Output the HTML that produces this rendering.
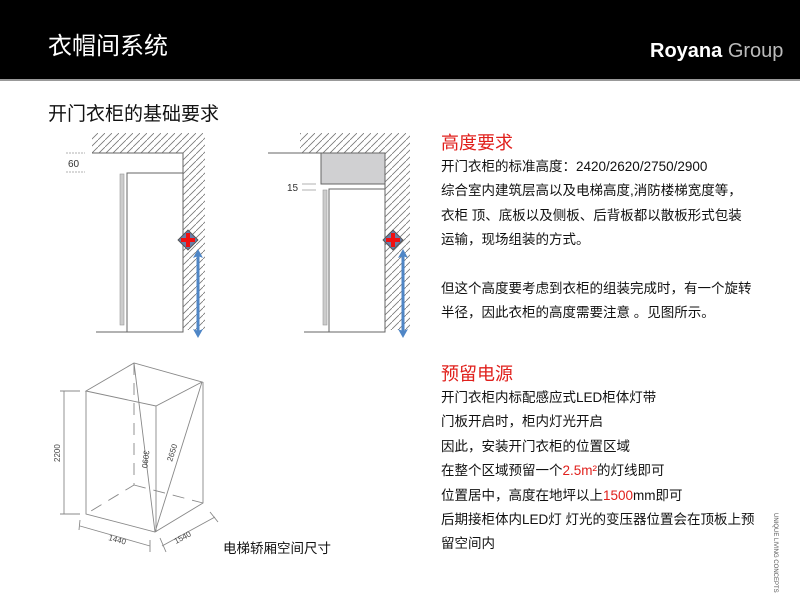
<!DOCTYPE html>
<html><head><meta charset="utf-8"><style>
body{margin:0;width:800px;height:600px;background:#fff;position:relative;overflow:hidden;font-family:"Liberation Sans","Noto Sans CJK SC",sans-serif;}
.hdr{position:absolute;left:0;top:0;width:800px;height:79px;background:#000;border-bottom:2px solid #999;}
.t{position:absolute;white-space:nowrap;}
.txt{position:absolute;left:441px;top:155px;font-size:13.5px;line-height:24.4px;color:#111;}
.red{color:#e0201c;}
</style></head><body>
<div class="hdr"></div>
<div class="t" style="left:48px;top:26px;font-size:24px;color:#fff;">衣帽间系统</div>
<div class="t" style="left:650px;top:40px;font-size:20px;color:#fff;"><b style="font-weight:600">Royana</b> <span style="color:#bbb">Group</span></div>
<div class="t" style="left:48px;top:99px;font-size:19px;color:#111;">开门衣柜的基础要求</div>
<div class="t red" style="left:441px;top:129px;font-size:18px;">高度要求</div>
<div class="txt">开门衣柜的标准高度：2420/2620/2750/2900<br>综合室内建筑层高以及电梯高度,消防楼梯宽度等，<br>衣柜 顶、底板以及侧板、后背板都以散板形式包装<br>运输，现场组装的方式。<br><br>但这个高度要考虑到衣柜的组装完成时，有一个旋转<br>半径，因此衣柜的高度需要注意 。见图所示。</div>
<div class="t red" style="left:441px;top:360px;font-size:18px;">预留电源</div>
<div class="txt" style="top:386px;">开门衣柜内标配感应式LED柜体灯带<br>门板开启时，柜内灯光开启<br>因此，安装开门衣柜的位置区域<br>在整个区域预留一个<span class="red">2.5m²</span>的灯线即可<br>位置居中，高度在地坪以上<span class="red">1500</span>mm即可<br>后期接柜体内LED灯 灯光的变压器位置会在顶板上预<br>留空间内</div>
<div class="t" style="left:223px;top:537px;font-size:13.5px;color:#111;">电梯轿厢空间尺寸</div>
<div class="t" style="left:770px;top:540px;font-size:6px;color:#555;transform:rotate(90deg);transform-origin:center;width:60px;margin-left:-25px;">UNIQUE LIVING CONCEPTS</div>
<svg width="800" height="600" style="position:absolute;left:0;top:0" font-family="Liberation Sans, sans-serif">
<defs>
<pattern id="h" width="7" height="7" patternUnits="userSpaceOnUse"><path d="M-1 8 L8 -1" stroke="#777" stroke-width="0.8"/></pattern>
<marker id="ar" markerWidth="10" markerHeight="10" refX="2" refY="5" orient="auto-start-reverse" markerUnits="userSpaceOnUse"><path d="M0 0 L9 5 L0 10 L2 5 z" fill="#4f86c6"/></marker>
</defs>
<path d="M92 133 H205 V330 H183 V153 H92 Z" fill="url(#h)"/>
<path d="M92 153 H183 V332 H96" fill="none" stroke="#666" stroke-width="1"/>
<path d="M127 332 V173 H183" fill="none" stroke="#666"/>
<rect x="120" y="174" width="4" height="151" fill="#ccc" stroke="#999" stroke-width="0.6"/>
<path d="M66 153 H85 M66 172 H85" stroke="#999" stroke-width="0.8" stroke-dasharray="2 1"/>
<text x="68" y="167" font-size="10" fill="#333">60</text>
<path d="M300 133 H410 V330 H385 V153 H300 Z" fill="url(#h)"/>
<rect x="321" y="153" width="64" height="31" fill="#d0d0d2" stroke="#666"/>
<path d="M268 153 H385 V332 H304" fill="none" stroke="#666"/>
<path d="M329 332 V189 H385" fill="none" stroke="#666"/>
<rect x="323" y="190" width="4" height="135" fill="#ccc" stroke="#999" stroke-width="0.6"/>
<path d="M302 184 H316 M302 190 H316" stroke="#999" stroke-width="0.8"/>
<text x="287" y="191" font-size="10" fill="#333">15</text>
<g>
<rect x="181" y="233" width="14" height="14" transform="rotate(45 188 240)" fill="#6a7ea8" stroke="#555"/>
<path d="M188 233 V247 M181 240 H195" stroke="#f01010" stroke-width="4"/>
</g>
<g transform="translate(205 0)">
<rect x="181" y="233" width="14" height="14" transform="rotate(45 188 240)" fill="#6a7ea8" stroke="#555"/>
<path d="M188 233 V247 M181 240 H195" stroke="#f01010" stroke-width="4"/>
</g>
<path d="M198 256 V331" stroke="#4f86c6" stroke-width="3" marker-start="url(#ar)" marker-end="url(#ar)"/>
<path d="M403 256 V331" stroke="#4f86c6" stroke-width="3" marker-start="url(#ar)" marker-end="url(#ar)"/>
<g stroke="#888" stroke-width="0.9" fill="none">
<path d="M86 391 L134 363 L202 382 L156 406 Z"/>
<path d="M86 391 V514 L155 532 L203 503 V382"/>
<path d="M156 406 V532"/>
<path d="M134 363 V485 L86 514 M134 485 L203 503" stroke-dasharray="12 8"/>
<path d="M134 363 L155 532 L202 382"/>
<path d="M64 391 V514 M60 391 H80 M60 514 H80"/>
<path d="M80 526 L150 546 M80 520 L79 530 M150 540 L150 552"/>
<path d="M162 546 L215 517 M160 538 L166 552 M210 512 L218 522"/>
</g>
<g font-size="8" fill="#444">
<text transform="translate(60 462) rotate(-90)">2200</text>
<text transform="translate(108 540) rotate(15)">1440</text>
<text transform="translate(176 544) rotate(-28)">1540</text>
<text transform="translate(144 450) rotate(97)">3090</text>
<text transform="translate(172 462) rotate(-72)">2650</text>
</g>
</svg>
</body></html>
